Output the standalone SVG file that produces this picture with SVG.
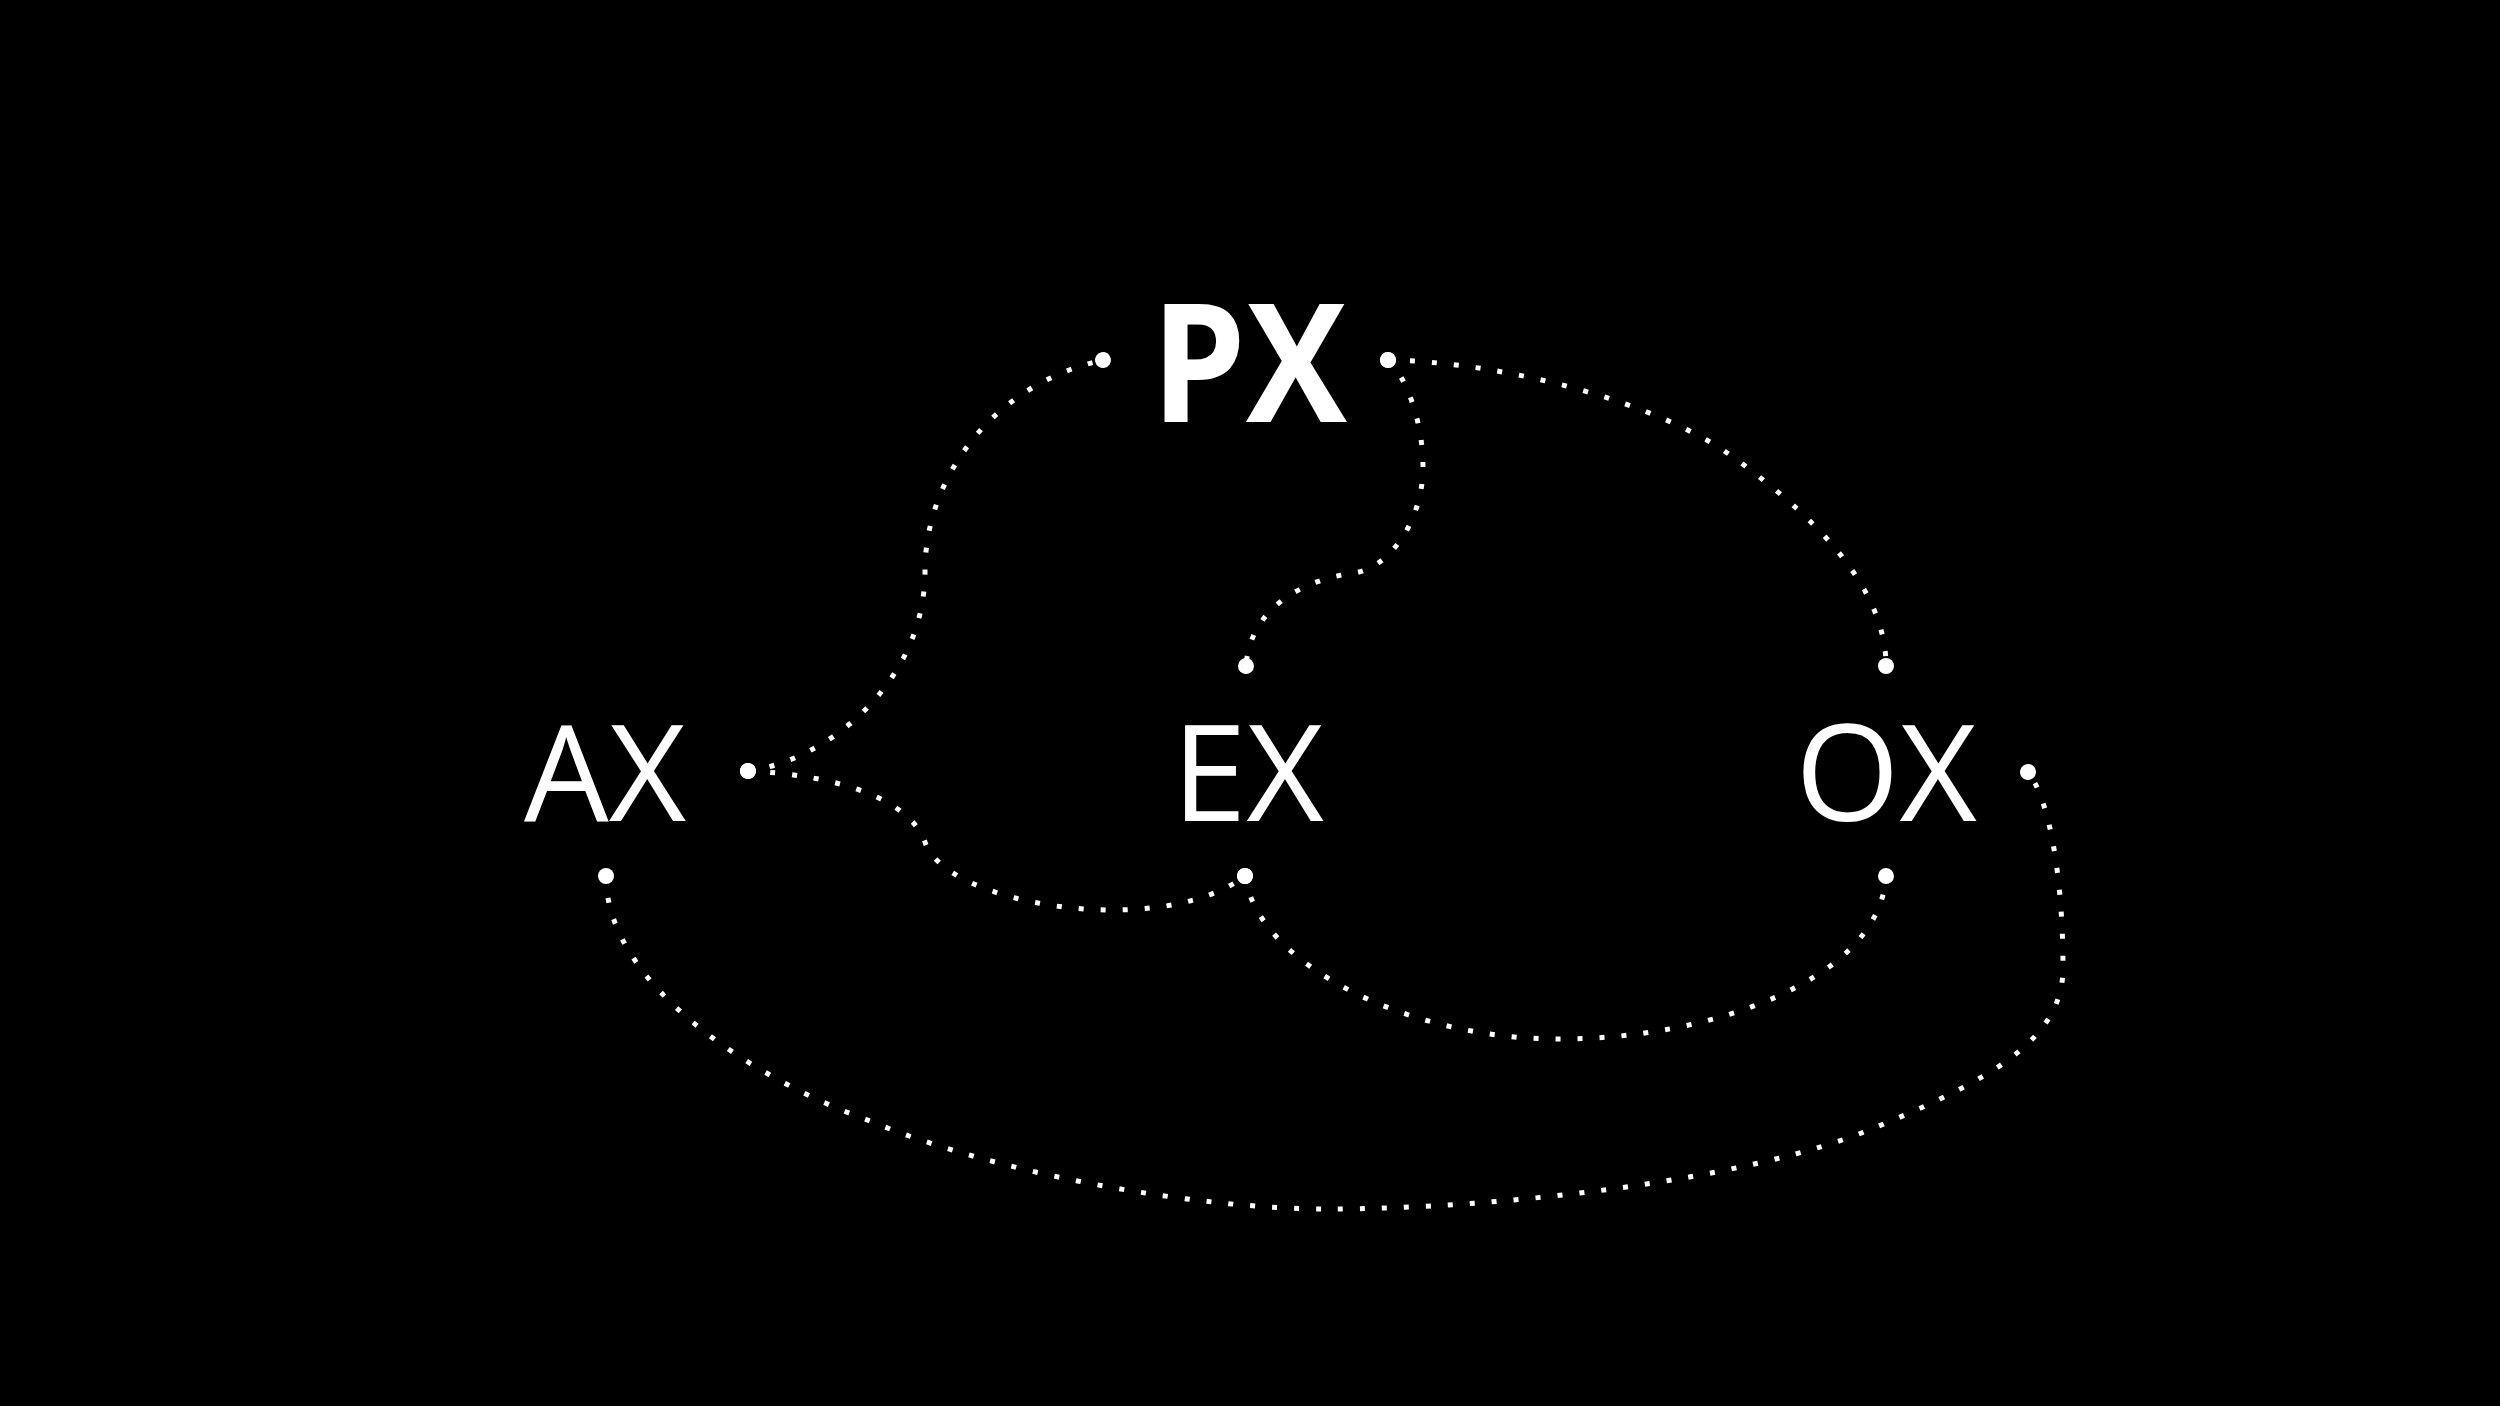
<svg xmlns="http://www.w3.org/2000/svg" width="2500" height="1406" viewBox="0 0 2500 1406">
<defs>
<style>
.lbl{font-family:"Open Sans","Noto Sans","Liberation Sans",sans-serif;fill:#fff;text-anchor:middle}
.reg{font-size:134px;font-weight:400}
.bold{font-size:168px;font-weight:700}
.con{fill:none;stroke:#fff;stroke-width:5;stroke-dasharray:5 17;stroke-linecap:butt;marker-start:url(#dot);marker-end:url(#dot)}
</style>
<marker id="dot" viewBox="-10 -10 20 20" refX="0" refY="0" markerWidth="20" markerHeight="20" markerUnits="userSpaceOnUse" orient="auto">
<circle cx="0" cy="0" r="8" fill="#fff"/>
</marker>
</defs>
<rect x="0" y="0" width="2500" height="1406" fill="#000"/>
<g id="connectors">
<path id="ax-px" class="con" d="M748,771 C830,760 925,680 925,571 C925,480 990,385 1103,360"/>
<path id="ax-ex" class="con" d="M748,771 C840,775 910,800 925,842 C945,905 1160,940 1245,876"/>
<path id="px-ex" class="con" d="M1388,360 C1405,375 1423,420 1423,467 C1423,520 1390,568 1354,573 C1300,580 1250,610 1246,666"/>
<path id="px-ox" class="con" d="M1388,360 C1500,362 1655,400 1733,457 C1800,506 1886,580 1886,666"/>
<path id="ex-ox" class="con" d="M1245,876 C1258,965 1410,1040 1561,1039 C1710,1039 1880,980 1886,876"/>
<path id="ax-ox" class="con" d="M606,876 C606,985 755,1080 870,1121 C1000,1175 1200,1209 1327,1209 C1500,1209 1750,1180 1874,1128 C1990,1080 2063,1040 2063,968 C2063,880 2050,800 2028,772"/>
</g>
<g id="node-px"><text class="lbl bold" transform="translate(1249,422) scale(0.9,0.98)" x="0" y="0">PX</text></g>
<g id="node-ax"><text class="lbl reg" x="605" y="821">AX</text></g>
<g id="node-ex"><text class="lbl reg" x="1248" y="821">EX</text></g>
<g id="node-ox"><text class="lbl reg" x="1886" y="821">OX</text></g>
</svg>
